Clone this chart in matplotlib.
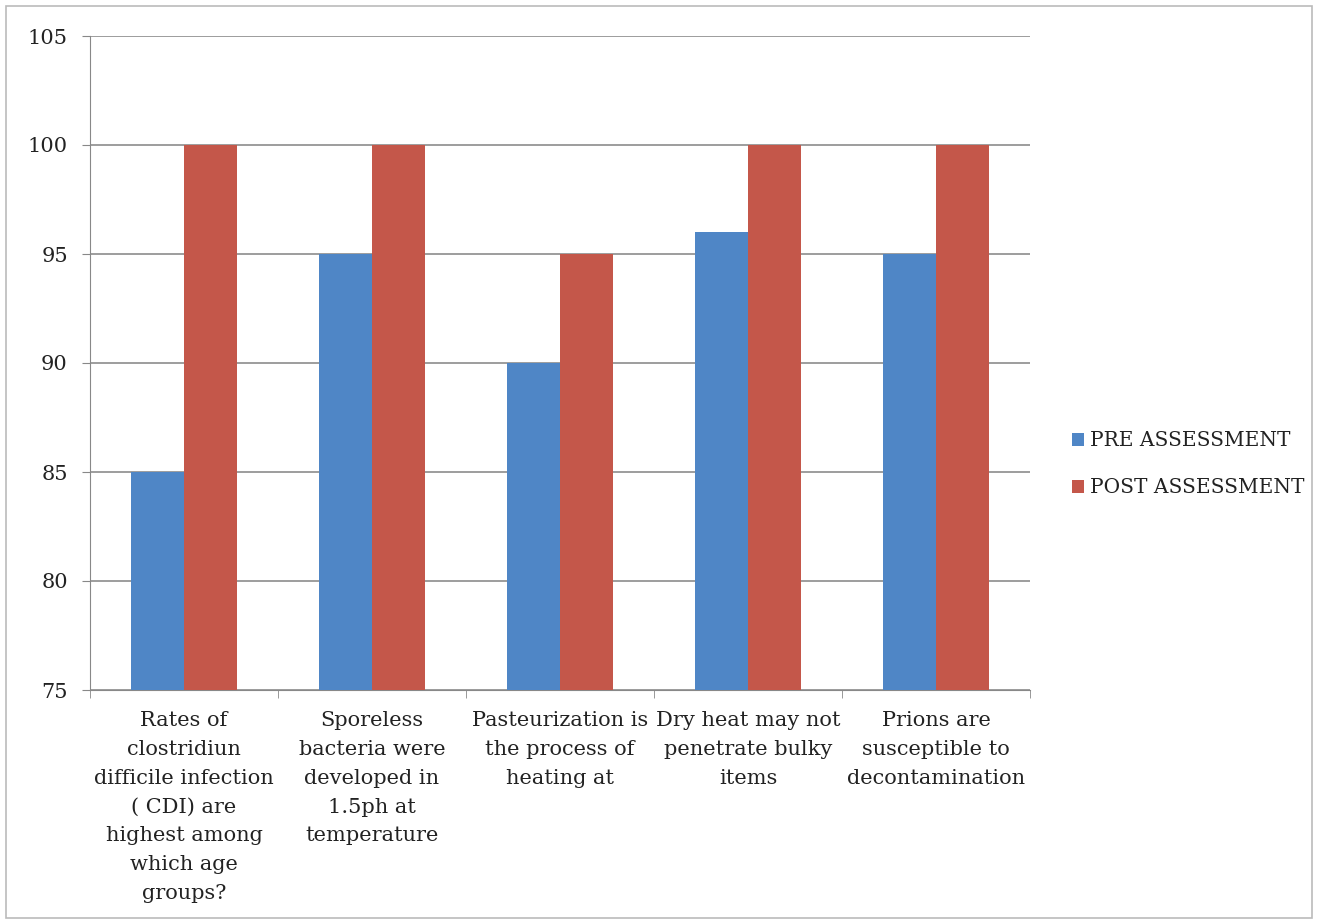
import numpy as np
import matplotlib.pyplot as plt
from matplotlib.patches import Rectangle

categories = [
    "Rates of\nclostridiun\ndifficile infection\n( CDI) are\nhighest among\nwhich age\ngroups?",
    "Sporeless\nbacteria were\ndeveloped in\n1.5ph at\ntemperature",
    "Pasteurization is\nthe process of\nheating at",
    "Dry heat may not\npenetrate bulky\nitems",
    "Prions are\nsusceptible to\ndecontamination",
]
pre_values = [85, 95, 90, 96, 95]
post_values = [100, 100, 95, 100, 100]
series_names = ["PRE ASSESSMENT", "POST ASSESSMENT"]
y_ticks = [75, 80, 85, 90, 95, 100, 105]

plt.rcParams['font.family'] = ['DejaVu Serif']

fig = plt.figure(figsize=(13.18, 9.24), dpi=100)
ax = fig.add_axes([90 / 1318, 1 - 690 / 924, 940 / 1318, 654 / 924])

x = np.arange(len(categories))
w = 0.28
ax.bar(x - w / 2, pre_values, w, color='#4F86C6', label=series_names[0], zorder=3)
ax.bar(x + w / 2, post_values, w, color='#C4574A', label=series_names[1], zorder=3)

ax.set_ylim(75, 105)
ax.set_xlim(-0.5, len(categories) - 0.5)
ax.set_yticks(y_ticks)
ax.set_yticklabels([str(v) for v in y_ticks], fontsize=15)
ax.grid(axis='y', color='#8c8c8c', lw=1.2, zorder=0)

ax.set_xticks(x)
ax.set_xticklabels(categories, fontsize=15, linespacing=1.66, color='#222222')
ax.tick_params(axis='x', length=0, pad=15)
ax.set_xticks(np.arange(len(categories) + 1) - 0.5, minor=True)
ax.tick_params(axis='x', which='minor', length=6, color='#888888', direction='out')
ax.tick_params(axis='y', length=6, color='#888888', pad=10, labelcolor='#222222')

for side in ['top', 'right']:
    ax.spines[side].set_visible(False)
ax.spines['left'].set_color('#888888')
ax.spines['bottom'].set_color('#888888')

leg = ax.legend(loc='center left', bbox_to_anchor=(1.025, 0.345), frameon=False,
                fontsize=14.5, handlelength=0.6, handleheight=0.6, handletextpad=0.3,
                labelspacing=1.4)
for t in leg.get_texts():
    t.set_color('#222222')

fig.patches.append(Rectangle((6 / 1318, 6 / 924), 1 - 12 / 1318, 1 - 12 / 924,
                             transform=fig.transFigure, fill=False,
                             edgecolor='#bbbbbb', lw=1.2))

fig.savefig('out.png', dpi=100)
